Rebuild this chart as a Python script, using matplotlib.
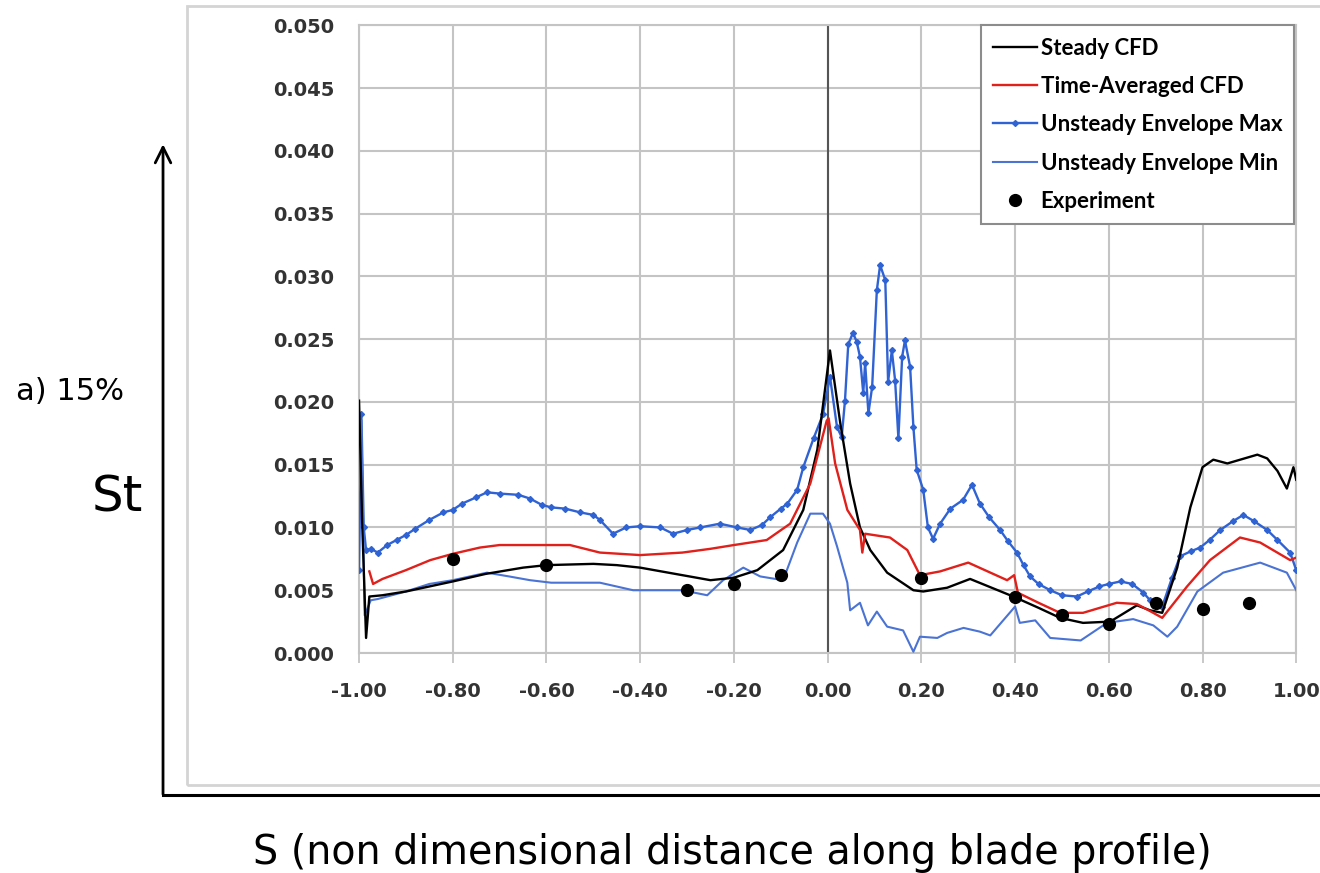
import matplotlib as mpl
mpl.use("Agg")
import matplotlib.pyplot as plt
from matplotlib.patches import Rectangle
import numpy as np

custom_rcparams = {
    "figure.dpi": 100,
    "figure.figsize": (13.2, 8.73),
    "font.family": "DejaVu Sans",
    "lines.linewidth": 1.6,
}
mpl.rcParams.update(custom_rcparams)

# --- data ---
steady_x = [-1.0, -0.993, -0.985, -0.978, -0.95, -0.9, -0.85, -0.8, -0.73, -0.65,
            -0.6, -0.5, -0.45, -0.4, -0.31, -0.25, -0.2, -0.15, -0.095, -0.052,
            -0.022, 0.005, 0.027, 0.048, 0.069, 0.091, 0.127, 0.183, 0.204, 0.255,
            0.304, 0.35, 0.396, 0.45, 0.496, 0.545, 0.603, 0.66, 0.688, 0.714,
            0.746, 0.774, 0.80, 0.823, 0.853, 0.917, 0.938, 0.96, 0.98, 0.994, 1.0]
steady_y = [0.0201, 0.0100, 0.0012, 0.0045, 0.0046, 0.0049, 0.0053, 0.0057, 0.0063, 0.0068,
            0.0070, 0.0071, 0.0070, 0.0068, 0.0062, 0.0058, 0.0060, 0.0066, 0.0082, 0.0114,
            0.0162, 0.0241, 0.0183, 0.0135, 0.0100, 0.0082, 0.0064, 0.0050, 0.0049, 0.0052,
            0.0059, 0.0052, 0.0045, 0.0036, 0.0028, 0.0024, 0.0025, 0.0038, 0.0034, 0.0032,
            0.0068, 0.0116, 0.0148, 0.0154, 0.0151, 0.0158, 0.0155, 0.0145, 0.0131, 0.0148, 0.0138]

avg_x = [-0.978, -0.970, -0.95, -0.9, -0.848, -0.8, -0.742, -0.7, -0.635, -0.55,
         -0.486, -0.40, -0.31, -0.25, -0.20, -0.13, -0.08, -0.037, -0.002, 0.002,
         0.016, 0.042, 0.069, 0.074, 0.080, 0.133, 0.17, 0.197, 0.24, 0.30,
         0.383, 0.398, 0.406, 0.45, 0.496, 0.545, 0.617, 0.66, 0.69, 0.714,
         0.767, 0.816, 0.88, 0.923, 0.987, 1.0]
avg_y = [0.0065, 0.0055, 0.0059, 0.0066, 0.0074, 0.0079, 0.0084, 0.0086, 0.0086, 0.0086,
         0.0080, 0.0078, 0.0080, 0.0083, 0.0086, 0.0090, 0.0103, 0.0135, 0.0185, 0.0187,
         0.0151, 0.0114, 0.0098, 0.0080, 0.0095, 0.0092, 0.0082, 0.0062, 0.0065, 0.0072,
         0.0058, 0.0062, 0.0048, 0.0040, 0.0032, 0.0032, 0.0040, 0.0039, 0.0033, 0.0028,
         0.0053, 0.0074, 0.0092, 0.0088, 0.0074, 0.0076]

env_max_x = [-1.0, -0.995, -0.99, -0.985, -0.975, -0.96, -0.94, -0.92, -0.9, -0.88,
             -0.85, -0.82, -0.8, -0.78, -0.75, -0.727, -0.70, -0.66, -0.635, -0.61,
             -0.59, -0.56, -0.528, -0.5, -0.486, -0.458, -0.43, -0.40, -0.357, -0.33,
             -0.30, -0.272, -0.23, -0.193, -0.165, -0.14, -0.123, -0.10, -0.086, -0.065,
             -0.052, -0.03, -0.01, 0.005, 0.02, 0.03, 0.037, 0.044, 0.054, 0.062,
             0.069, 0.076, 0.08, 0.087, 0.095, 0.105, 0.112, 0.123, 0.129, 0.137,
             0.144, 0.151, 0.159, 0.165, 0.176, 0.183, 0.19, 0.204, 0.214, 0.225,
             0.24, 0.262, 0.289, 0.308, 0.325, 0.345, 0.368, 0.385, 0.404, 0.418,
             0.432, 0.45, 0.475, 0.50, 0.532, 0.555, 0.58, 0.60, 0.625, 0.65,
             0.674, 0.688, 0.714, 0.735, 0.752, 0.775, 0.795, 0.815, 0.838, 0.865,
             0.887, 0.91, 0.938, 0.96, 0.987, 1.0]
env_max_y = [0.0066, 0.0190, 0.0100, 0.0082, 0.0083, 0.0080, 0.0086, 0.0090, 0.0094, 0.0099,
             0.0106, 0.0112, 0.0114, 0.0119, 0.0124, 0.0128, 0.0127, 0.0126, 0.0123, 0.0118,
             0.0116, 0.0115, 0.0112, 0.0110, 0.0106, 0.0095, 0.0100, 0.0101, 0.0100, 0.0095,
             0.0098, 0.0100, 0.0103, 0.0100, 0.0098, 0.0102, 0.0108, 0.0115, 0.0119, 0.0130,
             0.0148, 0.0171, 0.0190, 0.0220, 0.0180, 0.0172, 0.0201, 0.0246, 0.0255, 0.0248,
             0.0236, 0.0207, 0.0231, 0.0191, 0.0212, 0.0289, 0.0309, 0.0297, 0.0216, 0.0241,
             0.0217, 0.0171, 0.0236, 0.0249, 0.0228, 0.0180, 0.0146, 0.0130, 0.0100, 0.0091,
             0.0103, 0.0115, 0.0122, 0.0134, 0.0119, 0.0108, 0.0098, 0.0089, 0.0080, 0.0070,
             0.0061, 0.0055, 0.0050, 0.0046, 0.0045, 0.0049, 0.0053, 0.0055, 0.0057, 0.0055,
             0.0048, 0.0042, 0.0037, 0.0060, 0.0077, 0.0081, 0.0084, 0.0090, 0.0098, 0.0105,
             0.0110, 0.0105, 0.0098, 0.0090, 0.0080, 0.0066]

env_min_x = [-0.995, -0.988, -0.975, -0.96, -0.9, -0.85, -0.8, -0.727, -0.68, -0.635,
             -0.59, -0.486, -0.415, -0.31, -0.257, -0.223, -0.18, -0.144, -0.095, -0.065,
             -0.037, -0.01, 0.005, 0.02, 0.042, 0.048, 0.069, 0.086, 0.105, 0.127,
             0.161, 0.183, 0.197, 0.234, 0.255, 0.29, 0.325, 0.347, 0.40, 0.41,
             0.443, 0.475, 0.54, 0.596, 0.652, 0.695, 0.725, 0.746, 0.789, 0.844,
             0.923, 0.98, 1.0]
env_min_y = [0.0185, 0.0030, 0.0042, 0.0043, 0.0049, 0.0055, 0.0058, 0.0064, 0.0061, 0.0058,
             0.0056, 0.0056, 0.0050, 0.0050, 0.0046, 0.0058, 0.0068, 0.0061, 0.0058, 0.0088,
             0.0111, 0.0111, 0.0103, 0.0085, 0.0056, 0.0034, 0.0040, 0.0022, 0.0033, 0.0021,
             0.0018, 0.0001, 0.0013, 0.0012, 0.0016, 0.0020, 0.0017, 0.0014, 0.0037, 0.0024,
             0.0026, 0.0012, 0.0010, 0.0024, 0.0027, 0.0022, 0.0013, 0.0021, 0.0049, 0.0064,
             0.0072, 0.0064, 0.0050]

exp_x = [-0.8, -0.6, -0.3, -0.2, -0.1, 0.2, 0.4, 0.5, 0.6, 0.7, 0.8, 0.9]
exp_y = [0.0075, 0.0070, 0.0050, 0.0055, 0.0062, 0.0060, 0.0045, 0.0030, 0.0023, 0.0040, 0.0035, 0.0040]

x_ticks = np.round(np.arange(-1.0, 1.01, 0.2), 2)
y_ticks = np.round(np.arange(0.0, 0.0501, 0.005), 3)
x_labels = ["-1.00", "-0.80", "-0.60", "-0.40", "-0.20", "0.00",
            "0.20", "0.40", "0.60", "0.80", "1.00"]

fig = plt.figure()

# excel chart-area frame
fig.patches.append(Rectangle((0.1417, 0.1008), 0.9, 0.892, transform=fig.transFigure,
                             facecolor="none", edgecolor="#d4d4d4", lw=2, zorder=-1))

ax = fig.add_axes([0.272, 0.252, 0.710, 0.719])
ax.set_facecolor("none")

ax.plot(steady_x, steady_y, color="black", lw=1.7, label="Steady CFD", zorder=4)
ax.plot(avg_x, avg_y, color="#e0201b", lw=1.7, label="Time-Averaged CFD", zorder=4)
ax.plot(env_max_x, env_max_y, color="#2f62d3", lw=1.7, marker="D", ms=3,
        label="Unsteady Envelope Max", zorder=3)
ax.plot(env_min_x, env_min_y, color="#4a73d4", lw=1.5, label="Unsteady Envelope Min", zorder=3)
ax.plot(exp_x, exp_y, ls="none", marker="o", ms=8.5, color="black", label="Experiment", zorder=5)

ax.axvline(0, color="#555555", lw=1.5, zorder=2)

ax.set_xlim(-1.0, 1.0)
ax.set_ylim(0.0, 0.050)
ax.set_xticks(x_ticks)
ax.set_yticks(y_ticks)
ax.set_xticklabels(x_labels, fontsize=14, fontweight="bold", color="#333333")
ax.set_yticklabels([f"{v:.3f}" for v in y_ticks], fontsize=14, fontweight="bold", color="#333333")
ax.tick_params(axis="x", length=7, width=1.2, color="#bfbfbf", pad=14)
ax.tick_params(axis="y", length=0, pad=18)
ax.grid(True, color="#c4c4c4", lw=1.5)
ax.set_axisbelow(True)
for sp in ax.spines.values():
    sp.set_color("#c4c4c4")
    sp.set_linewidth(1.5)

leg = ax.legend(loc="upper right", bbox_to_anchor=(0.998, 1.0), borderaxespad=0,
                prop={"family": "Lato", "weight": "bold", "size": 16},
                handlelength=2.0, handletextpad=0.15, labelspacing=0.78,
                fancybox=False, framealpha=1, borderpad=0.55)
leg.get_frame().set_edgecolor("#8c8c8c")
leg.get_frame().set_linewidth(1.5)

# outer drawn axes with arrow
fig.add_artist(plt.Line2D([0.1235, 1.0], [0.089, 0.089], transform=fig.transFigure,
                          color="black", lw=2.2))
ax.annotate("", xy=(0.1235, 0.838), xytext=(0.1235, 0.087), xycoords="figure fraction",
            textcoords="figure fraction",
            arrowprops=dict(arrowstyle="->", color="black", lw=2.0, mutation_scale=28))

fig.text(0.053, 0.551, "a) 15%", fontsize=22, ha="center", va="center")
fig.text(0.089, 0.430, "St", fontsize=36, ha="center", va="center")
fig.text(0.555, 0.023, "S (non dimensional distance along blade profile)", fontsize=28.5,
         ha="center", va="center")

plt.savefig("out.png", dpi=100)
